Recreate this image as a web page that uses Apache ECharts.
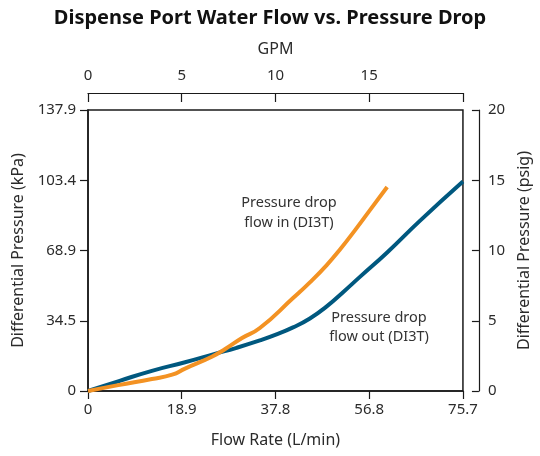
<!DOCTYPE html>
<html>
<head>
<meta charset="utf-8">
<script src="https://cdn.jsdelivr.net/npm/echarts@6/dist/echarts.min.js"></script>
<style>
html,body{margin:0;padding:0;background:#fff;}
#chart{width:540px;height:456px;}
</style>
</head>
<body>
<div id="chart"></div>
<script>
// Flow rate (L/min) and differential pressure (kPa)
var flowOutLpm = [0, 6.4, 12.9, 19.6, 25.6, 30.0, 34.7, 37.8, 41.4, 44.8, 48.2, 51.5, 54.9, 60.4, 67.0, 75.7];
var flowOutKpa = [0, 5.0, 9.9, 14.1, 18.2, 21.2, 24.8, 27.5, 31.2, 35.6, 41.5, 48.5, 56.0, 68.0, 83.5, 102.8];
var flowInLpm = [0, 6.1, 12.9, 17.0, 19.6, 25.0, 27.7, 31.1, 34.7, 41.4, 44.8, 48.2, 51.0, 54.0, 57.0, 60.4];
var flowInKpa = [0, 2.9, 5.9, 8.0, 11.0, 16.8, 20.6, 26.0, 30.9, 45.6, 53.3, 61.8, 69.8, 79.2, 89.0, 100.1];
var lpmTicks = ['0', '18.9', '37.8', '56.8', '75.7'];
var kpaTicks = ['0', '34.5', '68.9', '103.4', '137.9'];
var gpmTicks = ['0', '5', '10', '15', ''];
var psiTicks = ['0', '5', '10', '15', '20'];

function pairs(xs, ys) { return xs.map(function (x, i) { return [x, ys[i]]; }); }

var FONT = 'Noto Sans';
var TXT = '#2b2b2b';
var AX = '#1a1a1a';

var chart = echarts.init(document.getElementById('chart'));
chart.setOption({
  animation: false,
  title: {
    text: 'Dispense Port Water Flow vs. Pressure Drop',
    left: 'center', top: 3,
    textStyle: { fontFamily: FONT, fontWeight: 'bold', fontSize: 20, color: '#111' }
  },
  grid: { left: 88, right: 77, top: 110, bottom: 65, show: true, borderColor: AX, borderWidth: 1.5 },
  xAxis: [{
    type: 'value', position: 'bottom', min: 0, max: 75.7, interval: 18.925,
    axisLine: { show: true, onZero: false, lineStyle: { color: AX, width: 1.5 } },
    axisTick: { show: true, inside: false, length: 8, lineStyle: { color: AX, width: 1.2 } },
    splitLine: { show: false },
    axisLabel: { margin: 11, fontFamily: FONT, fontSize: 15, color: TXT,
      formatter: function (v) { return lpmTicks[Math.round(v / 18.925)]; } },
    name: 'Flow Rate (L/min)', nameLocation: 'middle', nameGap: 41,
    nameTextStyle: { fontFamily: FONT, fontSize: 16, color: TXT }
  }, {
    type: 'value', position: 'top', offset: 17, min: 0, max: 20, interval: 5,
    axisLine: { show: true, onZero: false, lineStyle: { color: AX, width: 1.2 } },
    axisTick: { show: true, inside: true, length: 9, lineStyle: { color: AX, width: 1.2 } },
    splitLine: { show: false },
    axisLabel: { margin: 10, fontFamily: FONT, fontSize: 15, color: TXT,
      formatter: function (v) { return gpmTicks[Math.round(v / 5)]; } },
    name: 'GPM', nameLocation: 'middle', nameGap: 36,
    nameTextStyle: { fontFamily: FONT, fontSize: 16, color: TXT }
  }],
  yAxis: [{
    type: 'value', position: 'left', min: 0, max: 137.9, interval: 34.475,
    axisLine: { show: true, onZero: false, lineStyle: { color: AX, width: 1.5 } },
    axisTick: { show: true, inside: false, length: 8, lineStyle: { color: AX, width: 1.2 } },
    splitLine: { show: false },
    axisLabel: { margin: 12, fontFamily: FONT, fontSize: 15, color: TXT,
      formatter: function (v) { return kpaTicks[Math.round(v / 34.475)]; } },
    name: 'Differential Pressure (kPa)', nameLocation: 'middle', nameGap: 53, nameRotate: 90,
    nameTextStyle: { fontFamily: FONT, fontSize: 16, color: TXT }
  }, {
    type: 'value', position: 'right', offset: 16, min: 0, max: 20, interval: 5,
    axisLine: { show: true, onZero: false, lineStyle: { color: AX, width: 1.2 } },
    axisTick: { show: true, inside: true, length: 7, lineStyle: { color: AX, width: 1.2 } },
    splitLine: { show: false },
    axisLabel: { margin: 9, fontFamily: FONT, fontSize: 15, color: TXT,
      formatter: function (v) { return psiTicks[Math.round(v / 5)]; } },
    name: 'Differential Pressure (psig)', nameLocation: 'middle', nameGap: 35, nameRotate: 90,
    nameTextStyle: { fontFamily: FONT, fontSize: 16, color: TXT }
  }],
  series: [{
    name: 'Pressure drop flow out (DI3T)', type: 'line', xAxisIndex: 0, yAxisIndex: 0,
    data: pairs(flowOutLpm, flowOutKpa), smooth: 0.5, showSymbol: false,
    lineStyle: { color: '#00587f', width: 4 }, z: 3
  }, {
    name: 'Pressure drop flow in (DI3T)', type: 'line', xAxisIndex: 0, yAxisIndex: 0,
    data: pairs(flowInLpm, flowInKpa), smooth: 0.5, showSymbol: false,
    lineStyle: { color: '#f39223', width: 4 }, z: 4
  }],
  graphic: [{
    type: 'text', x: 289, y: 213,
    style: { text: 'Pressure drop\nflow in (DI3T)', align: 'center', verticalAlign: 'middle', lineHeight: 20,
      font: '14.5px "Noto Sans"', fill: '#333' }
  }, {
    type: 'text', x: 379, y: 327,
    style: { text: 'Pressure drop\nflow out (DI3T)', align: 'center', verticalAlign: 'middle', lineHeight: 19,
      font: '14.5px "Noto Sans"', fill: '#333' }
  }]
});
</script>
</body>
</html>
